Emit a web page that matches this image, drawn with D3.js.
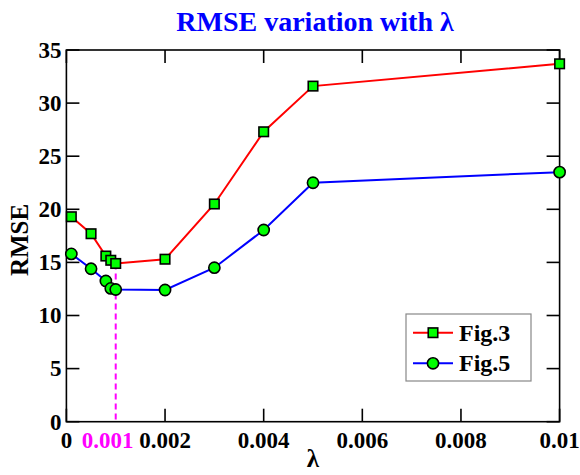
<!DOCTYPE html>
<html>
<head>
<meta charset="utf-8">
<script src="https://cdn.jsdelivr.net/npm/d3@7/dist/d3.min.js"></script>
<style>
  html, body { margin: 0; padding: 0; background: #fff; }
  svg { display: block; }
</style>
</head>
<body>
<svg id="chart" width="580" height="475"></svg>
<script>
// ---- data ----
const lambdas = [0.0001, 0.0005, 0.0008, 0.0009, 0.001, 0.002, 0.003, 0.004, 0.005, 0.01];
const fig3 = [19.3, 17.7, 15.6, 15.2, 14.9, 15.3, 20.5, 27.3, 31.6, 33.7];
const fig5 = [15.8, 14.4, 13.25, 12.55, 12.45, 12.4, 14.5, 18.05, 22.5, 23.5];
const xTicks = [0, 0.002, 0.004, 0.006, 0.008, 0.01];
const xTickLabels = ["0", "0.002", "0.004", "0.006", "0.008", "0.01"];
const yTicks = [0, 5, 10, 15, 20, 25, 30, 35];
const highlightLambda = 0.001;
const highlightLabel = "0.001";
const seriesNames = ["Fig.3", "Fig.5"];
const titleText = "RMSE variation with λ";
const xLabel = "λ";
const yLabel = "RMSE";

// ---- layout ----
const FONT = "'Liberation Serif', 'DejaVu Serif', 'Times New Roman', Times, serif";
const svg = d3.select("#chart")
  .attr("font-family", FONT).attr("font-weight", "bold");
const L = 66.4, R = 559.6, T = 50, B = 421.7;
const x = d3.scaleLinear().domain([0, 0.01]).range([L, R]);
const y = d3.scaleLinear().domain([0, 35]).range([B, T]);
const tickLen = 13;

// frame
svg.append("rect").attr("x", L).attr("y", T).attr("width", R - L).attr("height", B - T)
  .attr("fill", "none").attr("stroke", "#000").attr("stroke-width", 1.6);

// inward ticks
const g = svg.append("g").attr("stroke", "#000").attr("stroke-width", 1.6);
xTicks.forEach(v => {
  g.append("line").attr("x1", x(v)).attr("x2", x(v)).attr("y1", B).attr("y2", B - tickLen);
  g.append("line").attr("x1", x(v)).attr("x2", x(v)).attr("y1", T).attr("y2", T + tickLen);
});
yTicks.forEach(v => {
  g.append("line").attr("x1", L).attr("x2", L + tickLen).attr("y1", y(v)).attr("y2", y(v));
  g.append("line").attr("x1", R).attr("x2", R - tickLen).attr("y1", y(v)).attr("y2", y(v));
});

// tick labels
svg.append("g").selectAll("text").data(xTicks).join("text")
  .attr("x", d => x(d)).attr("y", 448)
  .attr("text-anchor", "middle").attr("font-size", 23).attr("fill", "#000")
  .text((d, i) => xTickLabels[i]);
svg.append("text").attr("x", x(highlightLambda) - 8).attr("y", 448)
  .attr("text-anchor", "middle").attr("font-size", 23).attr("fill", "#ff00ff")
  .text(highlightLabel);
svg.append("g").selectAll("text").data(yTicks).join("text")
  .attr("x", L - 5).attr("y", d => y(d)).attr("dy", "0.34em")
  .attr("text-anchor", "end").attr("font-size", 23).attr("fill", "#000")
  .text(d => d);

// title & axis labels
svg.append("text").attr("x", (L + R) / 2 + 2).attr("y", 31).attr("text-anchor", "middle")
  .attr("font-size", 28).attr("fill", "#0000ff").text(titleText);
svg.append("text").attr("x", (L + R) / 2).attr("y", 467).attr("text-anchor", "middle")
  .attr("font-size", 25).attr("fill", "#000").text(xLabel);
svg.append("text").attr("transform", `translate(28,240) rotate(-90)`)
  .attr("text-anchor", "middle").attr("font-size", 25).attr("fill", "#000").text(yLabel);

// highlight dashed line
const idx = lambdas.indexOf(highlightLambda);
svg.append("line").attr("x1", x(highlightLambda)).attr("x2", x(highlightLambda))
  .attr("y1", y(fig3[idx])).attr("y2", B)
  .attr("stroke", "#ff00ff").attr("stroke-width", 2).attr("stroke-dasharray", "6,4");

// lines
const line = d3.line().x((d, i) => x(lambdas[i])).y(d => y(d));
svg.append("path").datum(fig3).attr("d", line).attr("fill", "none").attr("stroke", "#ff0000").attr("stroke-width", 2);
svg.append("path").datum(fig5).attr("d", line).attr("fill", "none").attr("stroke", "#0000ff").attr("stroke-width", 2);

// markers
const sq = 9.5;
svg.append("g").selectAll("rect").data(fig3).join("rect")
  .attr("x", (d, i) => x(lambdas[i]) - sq / 2).attr("y", d => y(d) - sq / 2)
  .attr("width", sq).attr("height", sq)
  .attr("fill", "#00ff00").attr("stroke", "#000").attr("stroke-width", 1.6);
svg.append("g").selectAll("circle").data(fig5).join("circle")
  .attr("cx", (d, i) => x(lambdas[i])).attr("cy", d => y(d)).attr("r", 5.6)
  .attr("fill", "#00ff00").attr("stroke", "#000").attr("stroke-width", 1.6);

// legend
const lg = svg.append("g");
lg.append("rect").attr("x", 406).attr("y", 314).attr("width", 125).attr("height", 67)
  .attr("fill", "#fff").attr("stroke", "#888").attr("stroke-width", 1.2);
const rows = [332.7, 363.3];
[["#ff0000", "sq"], ["#0000ff", "ci"]].forEach((s, i) => {
  const yy = rows[i];
  lg.append("line").attr("x1", 413).attr("x2", 453).attr("y1", yy).attr("y2", yy)
    .attr("stroke", s[0]).attr("stroke-width", 2);
  if (s[1] === "sq") {
    lg.append("rect").attr("x", 433 - sq / 2).attr("y", yy - sq / 2).attr("width", sq).attr("height", sq)
      .attr("fill", "#00ff00").attr("stroke", "#000").attr("stroke-width", 1.6);
  } else {
    lg.append("circle").attr("cx", 433).attr("cy", yy).attr("r", 5.6)
      .attr("fill", "#00ff00").attr("stroke", "#000").attr("stroke-width", 1.6);
  }
  lg.append("text").attr("x", 459).attr("y", yy).attr("dy", "0.34em")
    .attr("font-size", 24).attr("fill", "#000").text(seriesNames[i]);
});
</script>
</body>
</html>
